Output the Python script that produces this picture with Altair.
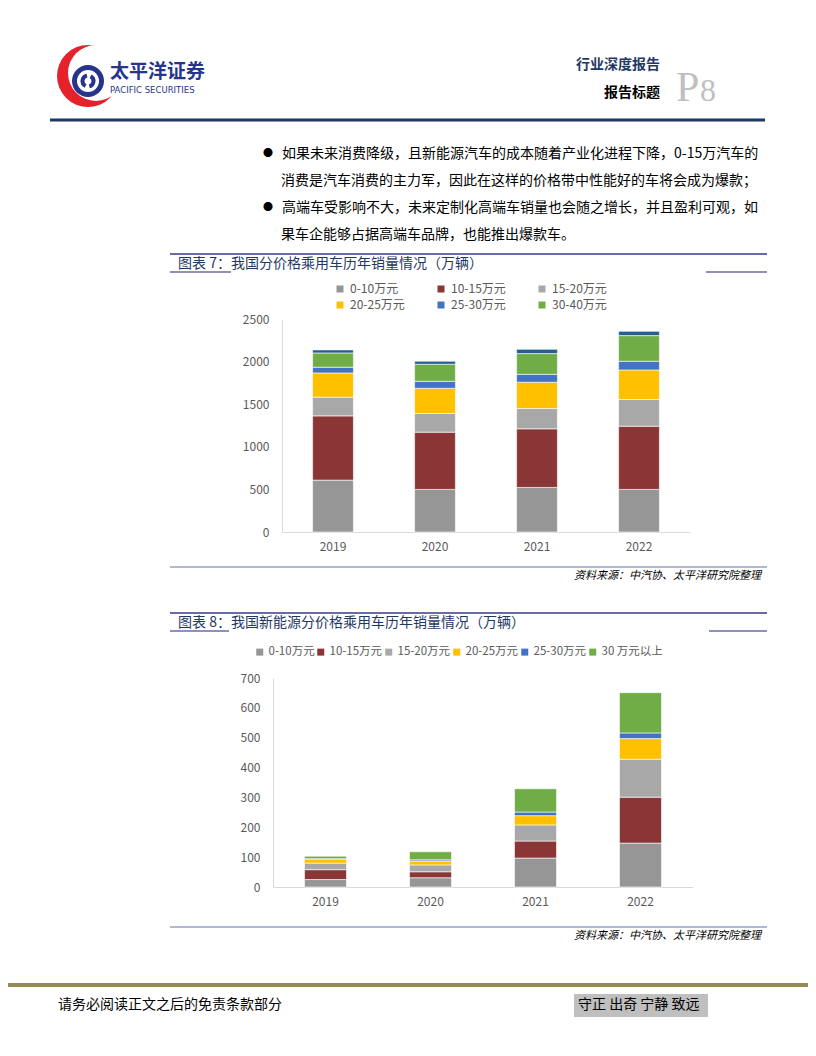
import altair as alt
import pandas as pd

# ---------------- data ----------------
years = ["2019", "2020", "2021", "2022"]

segments7 = ["0-10万元", "10-15万元", "15-20万元", "20-25万元", "25-30万元", "30-40万元", "40万元以上"]
c7_0_10 = [609, 500, 523, 500]
c7_10_15 = [754, 672, 688, 742]
c7_15_20 = [219, 219, 238, 313]
c7_20_25 = [285, 296, 309, 347]
c7_25_30 = [67, 82, 93, 102]
c7_30_40 = [168, 200, 243, 301]
c7_40_up = [35, 35, 50, 50]
colors7 = ["#969696", "#8B3636", "#A8A8A8", "#FFC000", "#4472C4", "#70AD47", "#255E91"]
ticks7 = [0, 500, 1000, 1500, 2000, 2500]

segments8 = ["0-10万元", "10-15万元", "15-20万元", "20-25万元", "25-30万元", "30 万元以上"]
c8_0_10 = [25, 31, 97, 147]
c8_10_15 = [33, 20, 57, 154]
c8_15_20 = [22, 23, 54, 127]
c8_20_25 = [12, 13, 31, 69]
c8_25_30 = [3, 4, 12, 19]
c8_30_up = [8, 27, 78, 135]
colors8 = ["#969696", "#8B3636", "#A8A8A8", "#FFC000", "#4472C4", "#70AD47"]
ticks8 = [0, 100, 200, 300, 400, 500, 600, 700]


def long_table(segs, series):
    rows = []
    for i, (s, vals) in enumerate(zip(segs, series)):
        for y, v in zip(years, vals):
            rows.append({"year": y, "seg": s, "value": v, "idx": i})
    return pd.DataFrame(rows)


df7 = long_table(segments7, [c7_0_10, c7_10_15, c7_15_20, c7_20_25, c7_25_30, c7_30_40, c7_40_up])
df8 = long_table(segments8, [c8_0_10, c8_10_15, c8_15_20, c8_20_25, c8_25_30, c8_30_up])

CJK = "Noto Sans CJK SC"
M = 8  # page margin
W, H = 800, 1040
dummy = pd.DataFrame({"k": [0]})


def T(text, x, y, size, color="#000000", align="left", weight="normal", style="normal",
      baseline="middle", font=CJK):
    return alt.Chart(dummy).mark_text(
        text=text, align=align, baseline=baseline, fontSize=size, color=color,
        fontWeight=weight, fontStyle=style, font=font
    ).encode(x=alt.value(x - M), y=alt.value(y - M))


def R(x1, x2, y, color, w):
    return alt.Chart(dummy).mark_rule(color=color, strokeWidth=w).encode(
        x=alt.value(x1 - M), x2=alt.value(x2 - M), y=alt.value(y - M))


def BOX(x1, x2, y1, y2, color):
    return alt.Chart(dummy).mark_rect(color=color).encode(
        x=alt.value(x1 - M), x2=alt.value(x2 - M), y=alt.value(y1 - M), y2=alt.value(y2 - M))


def CIRC(cx, cy, r, color):
    return alt.Chart(dummy).mark_circle(size=(2 * r) ** 2, color=color, opacity=1).encode(
        x=alt.value(cx - M), y=alt.value(cy - M))


def ARC(cx, cy, r1, r2, t1, t2, color):
    return alt.Chart(dummy).mark_arc(radius=r2, radius2=r1, theta=t1, theta2=t2, color=color).encode(
        x=alt.value(cx - M), y=alt.value(cy - M))


def bars(df, segs, cols, x0, x1, y0, y1, ymax, yticks, leg):
    return alt.Chart(df).mark_bar(stroke="#FFFFFF", strokeWidth=0.6).encode(
        x=alt.X("year:N", sort=years,
                scale=alt.Scale(range=[x0 - M, x1 - M], paddingInner=0.6, paddingOuter=0.3),
                axis=alt.Axis(orient="bottom", offset=(y0 - M) - H, title=None, ticks=False,
                              domainColor="#D9D9D9", domainWidth=1, labelColor="#595959",
                              labelFontSize=12, labelFont=CJK, labelPadding=9, labelAngle=0)),
        y=alt.Y("value:Q", stack="zero",
                scale=alt.Scale(domain=[0, ymax], range=[y0 - M, y1 - M], nice=False, zero=True),
                axis=alt.Axis(orient="left", offset=-(x0 - M), values=yticks, format="d", title=None,
                              grid=False, ticks=False, domainColor="#D9D9D9", domainWidth=1,
                              labelColor="#595959", labelFontSize=12, labelFont=CJK, labelPadding=13)),
        color=alt.Color("seg:N", sort=segs, scale=alt.Scale(domain=segs, range=cols), legend=leg),
        order=alt.Order("idx:Q", sort="ascending"),
    )


leg7 = alt.Legend(orient="none", legendX=326, legendY=275, direction="horizontal", columns=3,
                  title=None, values=segments7[:6], symbolType="square", symbolSize=49,
                  symbolStrokeWidth=0, labelFont=CJK, labelFontSize=12, labelColor="#595959",
                  columnPadding=30, rowPadding=4, padding=0, labelOffset=4)
leg8 = alt.Legend(orient="none", legendX=246, legendY=638, direction="horizontal", columns=6,
                  title=None, symbolType="square", symbolSize=49,
                  symbolStrokeWidth=0, labelFont=CJK, labelFontSize=11.5, labelColor="#595959",
                  columnPadding=0, padding=0, labelOffset=3)

chart7 = bars(df7, segments7, colors7, 282, 690, 532, 319, 2500, ticks7, leg7)
chart8 = bars(df8, segments8, colors8, 273, 693, 887, 678, 700, ticks8, leg8)

NAVY = "#1F3864"
FRAME = "#6B6BA8"

deco = [
    # logo
    CIRC(88, 76, 31, "#E5222B"),
    CIRC(96, 73, 28, "#FFFFFF"),
    CIRC(88, 81, 16, "#27348B"),
    CIRC(88, 81, 11, "#FFFFFF"),
    ARC(88, 81, 3.5, 7.5, 3.6, 6.1, "#27348B"),
    ARC(88, 81, 3.5, 7.5, 0.5, 2.9, "#27348B"),
    T("太平洋证券", 110, 72, 19, color="#27348B", weight="bold"),
    T("PACIFIC SECURITIES", 110, 90, 8.5, color="#27348B", font="DejaVu Sans"),
    # header right
    T("行业深度报告", 660, 65, 14, color=NAVY, align="right", weight="bold"),
    T("报告标题", 660, 93, 14, align="right", weight="bold"),
    T("P", 676, 101, 42, color="#BFBFBF", baseline="alphabetic", font="Liberation Serif"),
    T("8", 700, 101, 32, color="#BFBFBF", baseline="alphabetic", font="Liberation Serif"),
    R(50, 765, 120, NAVY, 3),
    # body text
    T("●", 268, 154, 10, align="center"),
    T("如果未来消费降级，且新能源汽车的成本随着产业化进程下降，0-15万汽车的", 282, 154, 14),
    T("消费是汽车消费的主力军，因此在这样的价格带中性能好的车将会成为爆款；", 281, 181, 14),
    T("●", 268, 208, 10, align="center"),
    T("高端车受影响不大，未来定制化高端车销量也会随之增长，并且盈利可观，如", 282, 208, 14),
    T("果车企能够占据高端车品牌，也能推出爆款车。", 281, 235, 14),
    # chart 7 frame
    R(170, 767, 254, FRAME, 2),
    T("图表 7：我国分价格乘用车历年销量情况（万辆）", 178, 264, 14, color=NAVY),
    R(170, 231, 272, FRAME, 1.5),
    R(706, 767, 272, FRAME, 1.5),
    R(170, 767, 567, FRAME, 1),
    T("资料来源：中汽协、太平洋研究院整理", 761, 576, 11, align="right", style="italic"),
    # chart 8 frame
    R(170, 767, 613, FRAME, 2),
    T("图表 8：我国新能源分价格乘用车历年销量情况（万辆）", 178, 623, 14, color=NAVY),
    R(170, 229, 631, FRAME, 1.5),
    R(709, 767, 631, FRAME, 1.5),
    R(170, 767, 927, FRAME, 1),
    T("资料来源：中汽协、太平洋研究院整理", 761, 936, 11, align="right", style="italic"),
    # footer
    R(0, 816, 985, "#948A54", 4),
    T("请务必阅读正文之后的免责条款部分", 58, 1005, 14),
    BOX(574, 708, 994, 1017, "#BFBFBF"),
    T("守正 出奇 宁静 致远", 578, 1005, 14),
]

chart = alt.layer(*deco, chart7, chart8).resolve_scale(
    x="independent", y="independent", color="independent"
).resolve_axis(
    x="independent", y="independent"
).resolve_legend(
    color="independent"
).properties(
    width=W, height=H, padding=0, autosize=alt.AutoSizeParams(type="none")
).configure_view(stroke="transparent")

chart.save("out.html", embed_options={"renderer": "svg", "actions": False})
